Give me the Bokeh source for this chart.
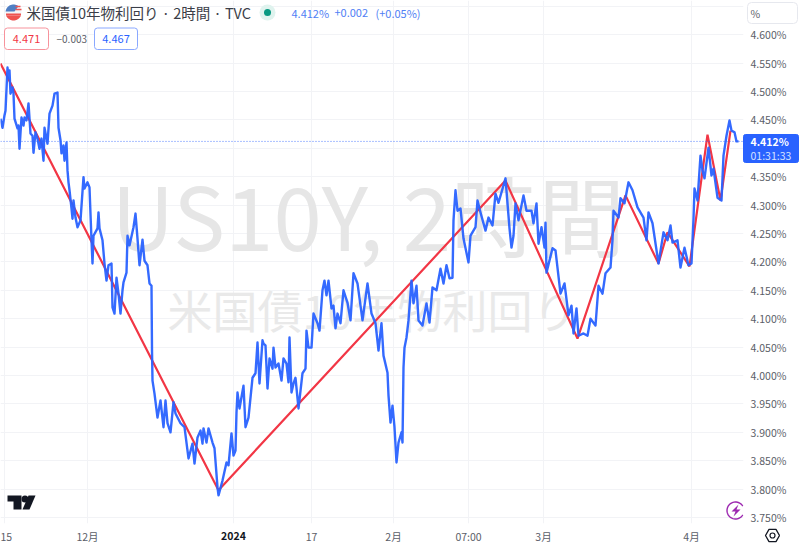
import numpy as np
from bokeh.embed import file_html
from bokeh.models import BoxAnnotation, Column, FixedTicker, Label, LinearAxis, Range1d, Span
from bokeh.plotting import figure
from bokeh.resources import INLINE

# ---- data ----
blue_x = [0,2,4,5,7,8,9,10,12,13,14,17,18,19,21,23,24,26,28,30,32,33,35,37,39,41,43,44,47,49,52,54,57,58,60,61,63,64,66,67,68,
 69,71,72,73,75,77,80,83,84,87,89,91,92,93,97,98,99,102,104,106,108,111,112,114,116,118,120,122,123,126,127,129,133,135,137,139,142,144,147,149,151,151.5,
 152,154,157,160,163,165,167,170,173,175,180,184,188,192,194,197,200,202,203,206,208,212,214,217,218,222,226,228,231,233,235,236,237,239,243,245,248,
 252,255,257,259,262,263,265,267,269,272,273,275,278,281,283,286,288,289,291,293,295,298,302,305,306,308,311,313,317,319,322,324,326,328,331,333,335,337,340,343,347,350,353,357,362,367,371,375,378,381,383,387,388,390,392,394,396,398,401,402,403,404,406,408,411,413,416,418,422,426,429,432,436,440,443,446,449,452,
 453,455,457,460,463,468,470,475,477,480,485,488,492,495,498,505,507,509,511,513,515,518,523,526,531,533,536,538,541,544,545,546,552,555,560,564,568,571,573,576,578,583,587,590,595,598,602,605,610,612,613,618,620,624,628,632,637,643,646,648,652,658,663,667,670,672,677,680,684,688,691,
 693,694,697,700,702,704,708,711,713,717,721,723,726,729,731,734,736,738]
blue_yield = [4.452,4.436,4.458,4.466,4.542,4.523,4.537,4.496,4.507,4.496,4.452,4.435,4.440,4.399,4.454,4.440,4.454,4.449,4.479,4.426,4.422,4.392,4.428,4.417,4.399,4.417,4.378,4.436,4.408,4.461,4.475,4.496,4.498,4.436,4.414,4.391,4.405,4.378,4.410,4.361,4.340,
 4.326,4.294,4.276,4.308,4.278,4.261,4.273,4.349,4.329,4.340,4.331,4.238,4.197,4.246,4.259,4.287,4.259,4.238,4.197,4.167,4.194,4.197,4.120,4.109,4.172,4.144,4.109,4.150,4.164,4.181,4.246,4.229,4.261,4.285,4.241,4.194,4.239,4.202,4.194,4.162,4.158,4.044,
 3.991,3.968,3.926,3.956,3.909,3.956,3.916,3.900,3.953,3.933,3.916,3.909,3.854,3.880,3.845,3.891,3.903,3.880,3.907,3.882,3.907,3.882,3.872,3.803,3.789,3.815,3.847,3.842,3.898,3.859,3.868,3.935,3.970,3.942,3.982,3.909,3.926,
 3.996,4.004,4.058,3.986,4.062,4.056,4.053,3.977,4.030,4.012,4.049,4.014,4.021,3.991,4.030,4.021,3.988,4.067,3.970,3.986,3.996,3.942,4.004,4.012,4.079,4.049,4.049,4.109,4.092,4.079,4.150,4.167,4.141,4.167,4.118,4.123,4.083,4.109,4.092,4.150,4.128,4.097,4.180,4.162,4.097,4.162,4.109,4.092,4.044,4.092,4.035,4.005,3.965,3.917,3.947,3.909,3.847,3.882,3.900,3.882,4.014,4.049,4.067,4.097,4.167,4.127,4.158,4.097,4.088,4.127,4.093,4.155,4.150,4.188,4.162,4.194,4.171,4.172,
 4.273,4.326,4.290,4.294,4.241,4.199,4.246,4.261,4.308,4.287,4.255,4.278,4.264,4.320,4.304,4.347,4.303,4.259,4.225,4.246,4.303,4.273,4.317,4.290,4.290,4.268,4.303,4.232,4.261,4.225,4.269,4.181,4.224,4.220,4.144,4.162,4.106,4.123,4.074,4.118,4.070,4.074,4.070,4.100,4.088,4.158,4.144,4.180,4.190,4.238,4.290,4.278,4.312,4.303,4.340,4.326,4.296,4.278,4.238,4.287,4.268,4.197,4.252,4.238,4.264,4.234,4.238,4.190,4.225,4.194,4.197,
 4.276,4.329,4.308,4.387,4.361,4.347,4.401,4.352,4.364,4.313,4.308,4.387,4.422,4.449,4.431,4.428,4.412,4.412]
red_x = [0,218,505,577,625,658,667,689,707,720,730]
red_yield = [4.549,3.798,4.343,4.065,4.317,4.197,4.252,4.192,4.424,4.308,4.431]
y_ticks = [3.75,3.80,3.85,3.90,3.95,4.00,4.05,4.10,4.15,4.20,4.25,4.30,4.35,4.40,4.45,4.50,4.55,4.60,4.65]
y_tick_labels = {3.75:"3.750%",3.80:"3.800%",3.85:"3.850%",3.90:"3.900%",3.95:"3.950%",4.00:"4.000%",4.05:"4.050%",4.10:"4.100%",
                 4.15:"4.150%",4.20:"4.200%",4.25:"4.250%",4.30:"4.300%",4.35:"4.350%",4.40:"",4.45:"4.450%",4.50:"4.500%",
                 4.55:"4.550%",4.60:"4.600%",4.65:""}
x_ticks = [4,87,233,311,393,468,543,691]
x_tick_labels = {4:"15",87:"12月",233:"",311:"17",393:"2月",468:"07:00",543:"3月",691:"4月"}
last_value = 4.412

# ---- styling ----
JP = "Noto Sans CJK JP"
BLUE = "#2962ff"
RED = "#f23645"
TICK = "#5b5e68"
FRAME_W, FRAME_H = 743, 523
ABS = {"position": "absolute", "left": "0px", "top": "0px"}


def Y(py):
    """Vertical pixel of the reference to price-scale value (annotations only)."""
    return 4.660 - 0.00176 * np.asarray(py, dtype=float)


p = figure(width=800, height=546, output_backend="svg", toolbar_location=None,
           x_range=Range1d(0, FRAME_W), y_range=Range1d(float(Y(FRAME_H)), 4.660),
           x_axis_location=None, y_axis_location=None,
           min_border_left=0, min_border_right=800 - FRAME_W, min_border_top=0,
           min_border_bottom=546 - FRAME_H, background_fill_color="white",
           border_fill_color="white", outline_line_color=None)

# transparent sheet over the whole page, for badges that sit over the axes
q = figure(width=800, height=546, output_backend="svg", toolbar_location=None,
           x_range=Range1d(0, 800), y_range=Range1d(546, 0),
           x_axis_location=None, y_axis_location=None,
           min_border_left=0, min_border_right=0, min_border_top=0, min_border_bottom=0,
           background_fill_alpha=0, border_fill_alpha=0, outline_line_color=None)
q.grid.visible = False

yaxis = LinearAxis(ticker=FixedTicker(ticks=y_ticks), major_label_overrides=y_tick_labels,
                   major_label_text_font=JP, major_label_text_font_size="10.5px",
                   major_label_text_color=TICK, axis_line_color=None,
                   major_tick_line_color=None, minor_tick_line_color=None, major_label_standoff=7,
                   major_tick_out=0, major_tick_in=0)
xaxis = LinearAxis(ticker=FixedTicker(ticks=x_ticks), major_label_overrides=x_tick_labels,
                   major_label_text_font=JP, major_label_text_font_size="10.5px",
                   major_label_text_color=TICK, axis_line_color=None,
                   major_tick_line_color=None, minor_tick_line_color=None, major_label_standoff=5,
                   major_tick_out=0, major_tick_in=0)
p.add_layout(yaxis, "right")
p.add_layout(xaxis, "below")
p.xgrid.ticker = FixedTicker(ticks=x_ticks)
p.ygrid.ticker = FixedTicker(ticks=y_ticks)
p.xgrid.grid_line_color = "#f2f3f6"
p.ygrid.grid_line_color = "#f2f3f6"
p.xgrid.grid_line_width = 1
p.ygrid.grid_line_width = 1


def label(x, py, text, size, color="#131722", align="left", style="normal", font=JP, level="overlay"):
    lb = Label(x=x, y=py, text=text, text_font=font, text_font_size=f"{size}px",
               text_color=color, text_align=align, text_baseline="middle", text_font_style=style,
               level=level)
    q.add_layout(lb)
    return lb


def box(l, r, t, b, line, fill="white", radius=3):
    q.add_layout(BoxAnnotation(left=l, right=r, top=t, bottom=b,
                               fill_color=fill, fill_alpha=1, line_color=line, line_width=1,
                               line_alpha=1, border_radius=radius, level="overlay"))


# watermarks, under the series in the main figure
for x0, py0, txt, size, col in [(111, 212, "US10Y, 2時間", 87, "#e6e6e6"),
                                (167, 309, "米国債10年物利回り", 45, "#e9e9e9")]:
    p.add_layout(Label(x=x0, y=float(Y(py0)), text=txt, text_font=JP, text_font_size=f"{size}px",
                       text_color=col, text_baseline="middle", level="underlay"))

# series
p.line(red_x, red_yield, line_color=RED, line_width=2.2)
p.line(blue_x, blue_yield, line_color=BLUE, line_width=2.4, line_join="round", alpha=0.95)
p.add_layout(Span(location=last_value, dimension="width", line_color=BLUE, line_width=1,
                  line_dash="1 2", line_alpha=0.8))

# header
label(26, 12, "米国債10年物利回り · 2時間 · TVC", 14.5, "#3b3e48")
label(291, 12, "4.412%", 11, "#4f80f5")
label(334, 12, "+0.002", 11, "#4f80f5")
label(375, 12, "(+0.05%)", 11, "#4f80f5")

box(4, 48, 27.5, 49, "#f7939c")
label(26, 38.5, "4.471", 11, RED, "center")
label(56, 38.5, "−0.003", 10, "#5b5e68")
box(94, 137, 27.5, 49, "#8aa8ff")
label(115.5, 38.5, "4.467", 11, BLUE, "center")

# price-scale badges
box(747, 797, 2, 23, "#e6e8ee", radius=4)
label(750, 13, "%", 10.5, TICK)
box(743, 798, 134, 162, BLUE, BLUE, radius=2)
label(750, 141, "4.412%", 10.5, "white", style="bold")
label(750, 155, "01:31:33", 10.5, "#d7e2ff")
label(233, 535, "2024", 10.5, "#131722", "center", style="bold")

# flag icon
t = np.linspace(0, 2 * np.pi, 41)
cx, cy, rr = 13, 12, 8
q.patch(cx + rr * np.cos(t), cy + rr * np.sin(t), fill_color="#f4f5f7", line_color=None)
seg = np.linspace(0.35, np.pi - 0.35, 21)
q.patch(cx + rr * np.cos(seg), cy + rr * np.sin(seg), fill_color="#ef5350", line_color=None)
q.patch([cx - 7.5, cx + 7.5, cx + 7.5, cx - 7.5], [cy + 1, cy + 1, cy + 2.5, cy + 2.5], fill_color="#ef5350", line_color=None)
top = np.linspace(np.pi + 0.15, 2 * np.pi - 0.9, 15)
q.patch(np.r_[cx + rr * np.cos(top), cx + 1, cx - 8], np.r_[cy + rr * np.sin(top), cy - 1, cy - 1],
        fill_color="#4f7fc4", line_color=None)
q.multi_line([[cx + 2, cx + 7], [cx + 2, cx + 8]], [[cy - 6, cy - 6], [cy - 3, cy - 3]],
             line_color="#ef5350", line_width=1.4)

# live status dot
q.scatter([267], [12], size=16, color="#dff3ee", line_color=None)
q.scatter([267], [12], size=7, color="#089981", line_color=None)

# TradingView mark
q.patch([7, 21, 21, 13, 13, 7], [495, 495, 509, 509, 501, 501], fill_color="#131722", line_color=None)
q.scatter([24.5], [498.5], size=7, color="#131722", line_color=None)
q.patch([28, 35, 29, 22], [495, 495, 509, 509], fill_color="#131722", line_color=None)

# assistant bolt icon
a = np.linspace(0.55, 2 * np.pi - 0.55, 40)
q.line(735 + 8.5 * np.cos(a), 510 + 8.5 * np.sin(a), line_color="#9c27b0", line_width=1.4)
q.patch([738, 731, 735, 733, 740, 736], [504, 511, 511, 516, 509, 509], fill_color="#9c27b0", line_color=None)

# settings glyph: hexagon and hub
hx = np.deg2rad(np.arange(0, 361, 60))
q.line(772 + 7 * np.cos(hx), 535 + 7 * np.sin(hx), line_color="#131722", line_width=1.3)
q.scatter([772], [535], size=5, fill_color=None, line_color="#131722", line_width=1.2)

layer1 = Column(children=[p], width=800, height=546, styles=ABS)
layer2 = Column(children=[q], width=800, height=546, styles=ABS)
page = Column(children=[layer1, layer2], width=800, height=546, styles=ABS)
open("out.html", "w").write(file_html(page, INLINE))
